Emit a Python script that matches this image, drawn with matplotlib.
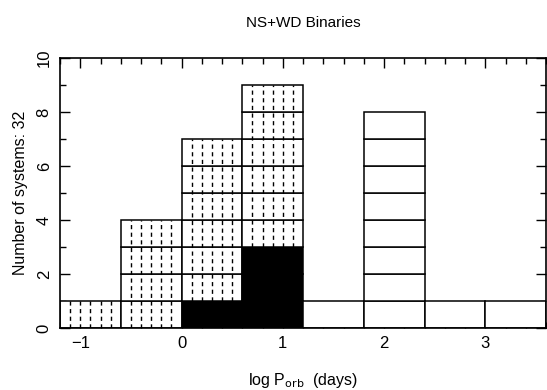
import numpy as np
import matplotlib
matplotlib.use("Agg")
import matplotlib.pyplot as plt
from matplotlib.ticker import MultipleLocator

# histogram of log P_orb (days), bin width 0.6
bin_left = [-1.2, -0.6, 0.0, 0.6, 1.2, 1.8, 2.4, 3.0]
counts = [1, 4, 7, 9, 1, 8, 1, 1]
black_counts = [0, 0, 1, 3, 0, 0, 0, 0]
hatched = [True, True, True, True, False, False, False, False]
width = 0.6
xticks = [-1, 0, 1, 2, 3]
xticklabels = ['\u22121', '0', '1', '2', '3']

plt.rcParams['font.family'] = ['Liberation Sans', 'DejaVu Sans']
fig = plt.figure(figsize=(5.47, 3.90), dpi=100)
ax = fig.add_axes([60/547, 1-328/390, 486/547, 270/390])

for x0, n, nb, h in zip(bin_left, counts, black_counts, hatched):
    # one box per system
    for k in range(n):
        fc = 'black' if k < nb else 'white'
        ax.bar(x0, 1, width=width, bottom=k, align='edge',
               facecolor=fc, edgecolor='black', linewidth=1.1, zorder=2)
    if h and n > nb:
        xs = x0 + np.arange(1, 6) * width / 6
        ax.vlines(xs, nb, n, colors='black', linestyles=(0, (3, 2.5)),
                  linewidth=1.0, zorder=3)

ax.set_xlim(-1.2, 3.6)
ax.set_ylim(0, 10)
ax.set_xticks(xticks, xticklabels)
ax.xaxis.set_minor_locator(MultipleLocator(0.2))
ax.yaxis.set_major_locator(MultipleLocator(2))
ax.yaxis.set_minor_locator(MultipleLocator(1))
ax.tick_params(which='both', direction='in', top=True, right=True,
               labelsize=12, width=1.0)
ax.tick_params(which='major', length=7, pad=6)
ax.tick_params(which='minor', length=4)
for lab in ax.get_yticklabels():
    lab.set_rotation(90)
    lab.set_va('center')
for s in ax.spines.values():
    s.set_linewidth(1.2)

ax.set_title('NS+WD Binaries', fontsize=11, pad=22)
ax.set_xlabel(r'log P$_{\rm orb}$  (days)', fontsize=11.5, labelpad=14)
ax.set_ylabel('Number of systems: 32', fontsize=11.5, labelpad=6)

fig.savefig('out.png', dpi=100)
